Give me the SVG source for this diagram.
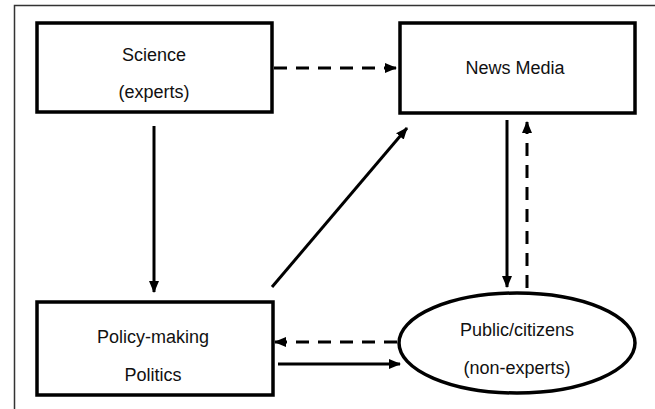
<svg xmlns="http://www.w3.org/2000/svg" width="655" height="409" viewBox="0 0 655 409">
<style>
.box{fill:#fff;stroke:#000;stroke-width:3.5}
.lbl{font-family:"Liberation Sans",Arial,sans-serif;font-size:18px;fill:#111;text-anchor:middle}
.c{fill:none;stroke:#000;stroke-width:3}
.d{stroke-dasharray:13 9}
</style>
<defs>
<marker id="ah" markerUnits="userSpaceOnUse" markerWidth="12" markerHeight="12" viewBox="0 0 12 12" refX="11" refY="6" orient="auto">
<path d="M0,1 L12,6 L0,11 Z" fill="#000"/>
</marker>
</defs>
<rect width="655" height="409" fill="#fff"/>
<g id="frame" fill="none" stroke="#333" stroke-width="1.5">
<path d="M14.5,409 V5.5 H655"/>
</g>
<g id="science">
<rect class="box" x="37" y="23" width="235" height="89"/>
<text class="lbl" x="154" y="61">Science</text>
<text class="lbl" x="154" y="98">(experts)</text>
</g>
<g id="news">
<rect class="box" x="400" y="23" width="235" height="90"/>
<text class="lbl" x="515" y="74">News Media</text>
</g>
<g id="policy">
<rect class="box" x="37" y="302" width="236" height="93"/>
<text class="lbl" x="153" y="343">Policy-making</text>
<text class="lbl" x="153" y="381">Politics</text>
</g>
<g id="public">
<ellipse class="box" cx="517" cy="343" rx="118" ry="50"/>
<text class="lbl" x="517" y="336">Public/citizens</text>
<text class="lbl" x="517" y="374">(non-experts)</text>
</g>
<g id="connectors">
<line class="c d" x1="274" y1="68" x2="396" y2="68" marker-end="url(#ah)"/>
<line class="c" x1="154" y1="126" x2="154" y2="292" marker-end="url(#ah)"/>
<line class="c" x1="272" y1="287" x2="407" y2="128" marker-end="url(#ah)"/>
<line class="c" x1="507" y1="120" x2="507" y2="287" marker-end="url(#ah)"/>
<line class="c d" x1="527" y1="288" x2="527" y2="122" marker-end="url(#ah)"/>
<line class="c d" x1="397" y1="342" x2="275" y2="342" marker-end="url(#ah)"/>
<line class="c" x1="278" y1="364" x2="400" y2="364" marker-end="url(#ah)"/>
</g>
</svg>
